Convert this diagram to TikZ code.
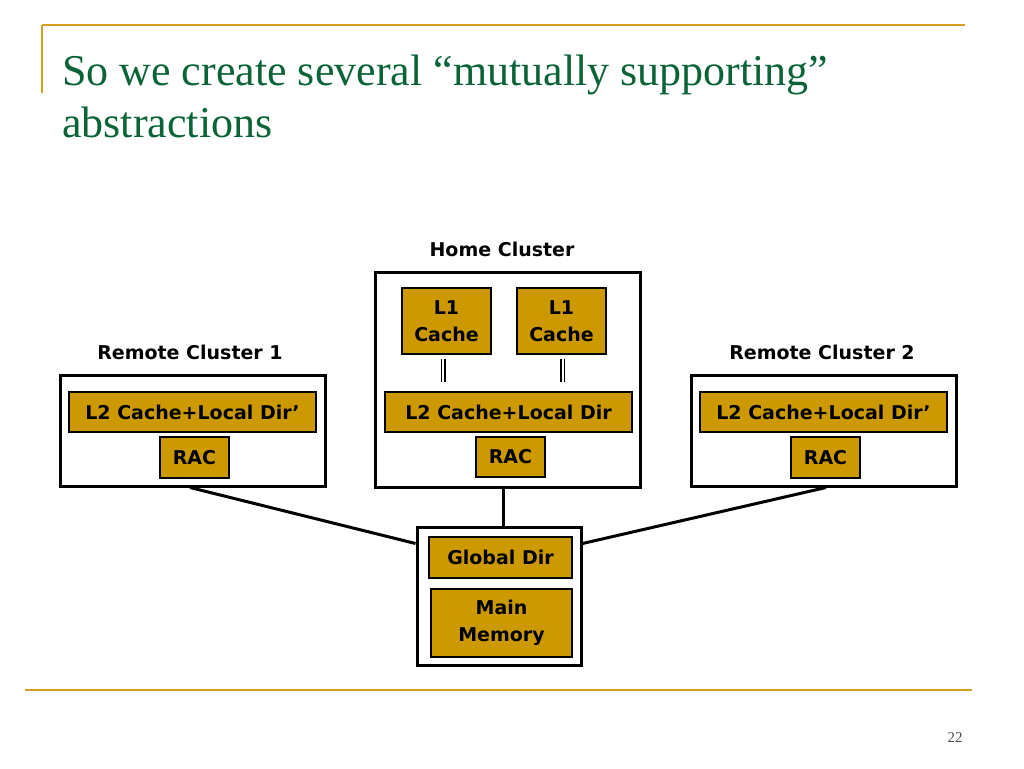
\documentclass[tikz,border=0pt]{standalone}
\usepackage{fontspec}
\setmainfont{Liberation Serif}
\newfontfamily\boxfont{DejaVu Sans}
\usetikzlibrary{calc}
\definecolor{gold}{RGB}{204,153,0}
\definecolor{rulegold}{RGB}{214,160,30}
\definecolor{titlegreen}{RGB}{10,100,55}
\begin{document}
\begin{tikzpicture}[x=1pt,y=-1pt,
  cluster/.style={draw=black,line width=3pt,fill=white,inner sep=0pt},
  part/.style={draw=black,line width=1.5pt,fill=gold,inner sep=0pt,align=center,
    font=\boxfont\bfseries\fontsize{19}{27}\selectfont},
  lab/.style={font=\boxfont\bfseries\fontsize{19}{22}\selectfont,inner sep=0pt},
  link/.style={line width=3pt},
  thin/.style={line width=1.2pt}]
\useasboundingbox (0,0) rectangle (1024,768);
% slide frame
\draw[rulegold,line width=2pt] (42,25) -- (965,25);
\draw[rulegold,line width=1.5pt] (42,25) -- (42,93);
\draw[rulegold,line width=2.5pt] (25,690) -- (972,690);
\node[anchor=base west,inner sep=0pt,text=titlegreen,font=\fontsize{44}{52}\selectfont] (t1) at (62,85) {So we create several “mutually supporting”};
\node[anchor=base west,inner sep=0pt,text=titlegreen,font=\fontsize{44}{52}\selectfont] (t2) at (62,137) {abstractions};
\node[anchor=base,inner sep=0pt,font=\fontsize{15}{16}\selectfont,text=black!70] (pn) at (955,742) {22};
% home cluster
\node[cluster,minimum width=265pt,minimum height=215pt] (home) at (507.5,379.5) {};
\node[lab] (homel) at (502,249) {Home Cluster};
\node[part,minimum width=89pt,minimum height=66pt] (l1a) at (446.5,321) {L1\\Cache};
\node[part,minimum width=89pt,minimum height=66pt] (l1b) at (561.5,321) {L1\\Cache};
\node[part,minimum width=247pt,minimum height=40pt] (l2h) at (508.5,412) {L2 Cache+Local Dir};
\node[part,minimum width=69pt,minimum height=40pt] (rach) at (510.5,457) {RAC};
\foreach \xx in {441.5,445} \draw[thin] ($(l1a.south -| \xx,0)+(0,4)$) -- ($(l2h.north -| \xx,0)+(0,-9)$);
\foreach \xx in {561,564.5} \draw[thin] ($(l1b.south -| \xx,0)+(0,4)$) -- ($(l2h.north -| \xx,0)+(0,-9)$);
% remote cluster 1
\node[cluster,minimum width=265pt,minimum height=111pt] (r1) at (192.5,430.5) {};
\node[lab] (r1l) at (190,352) {Remote Cluster 1};
\node[part,minimum width=247pt,minimum height=40pt] (l2r1) at (192.5,412) {L2 Cache+Local Dir’};
\node[part,minimum width=69pt,minimum height=41pt] (racr1) at (194.5,457.5) {RAC};
% remote cluster 2
\node[cluster,minimum width=265pt,minimum height=111pt] (r2) at (823.5,430.5) {};
\node[lab] (r2l) at (822,352) {Remote Cluster 2};
\node[part,minimum width=247pt,minimum height=40pt] (l2r2) at (823.5,412) {L2 Cache+Local Dir’};
\node[part,minimum width=69pt,minimum height=41pt] (racr2) at (825.5,457.5) {RAC};
% memory
\node[cluster,minimum width=164pt,minimum height=138pt] (mem) at (499,596) {};
\node[part,minimum width=143pt,minimum height=41pt] (gdir) at (500.5,557.5) {Global Dir};
\node[part,minimum width=141pt,minimum height=68pt] (mm) at (501.5,623) {Main\\Memory};
% connectors
\draw[link] (r1.south -| 190,0) -- ($(mem.north west)+(0,18)$);
\draw[link] (home.south -| 503,0) -- (mem.north -| 503,0);
\draw[link] (r2.south -| 826,0) -- ($(mem.north east)+(0,18)$);
\end{tikzpicture}
\end{document}
